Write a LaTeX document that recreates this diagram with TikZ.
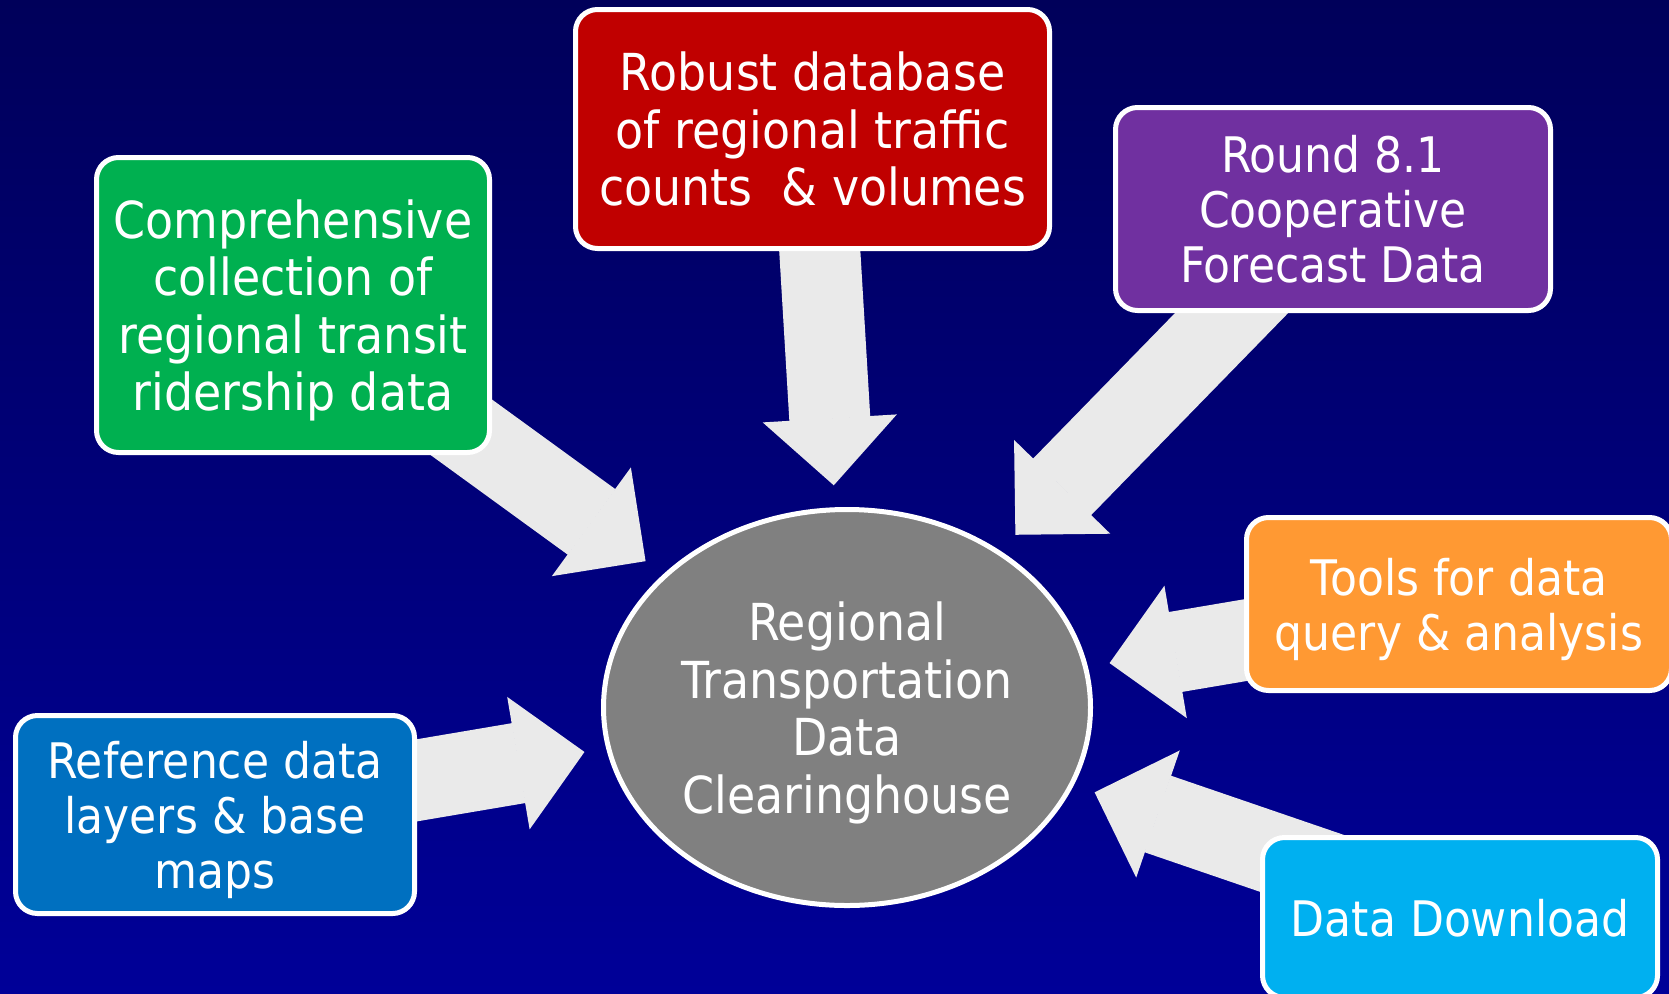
\documentclass[tikz,border=0pt]{standalone}
\usepackage{fontspec}
\setmainfont{DejaVu Sans}[FakeStretch=0.9]
\usetikzlibrary{shapes.geometric,arrows.meta,backgrounds}
\definecolor{skytop}{RGB}{0,0,90}
\definecolor{skybot}{RGB}{0,0,152}
\definecolor{trafred}{RGB}{192,0,0}
\definecolor{transgreen}{RGB}{0,176,80}
\definecolor{fcpurple}{RGB}{112,48,160}
\definecolor{toolorange}{RGB}{255,153,51}
\definecolor{refblue}{RGB}{0,112,192}
\definecolor{dlcyan}{RGB}{0,176,240}
\definecolor{hubgray}{RGB}{128,128,128}
\definecolor{feedgray}{RGB}{234,234,234}
\tikzset{
	card/.style={draw=white, line width=5pt, rounded corners=22pt, inner sep=0pt, text=white, align=center, text depth=0pt},
	bigtxt/.style={font=\fontsize{51}{57.5}\selectfont},
	smalltxt/.style={font=\fontsize{49}{55}\selectfont},
	feed/.style={draw=feedgray, line width=81pt, -{Triangle[length=67pt,width=134pt,line width=2pt]}, shorten >=22pt}
}
\begin{document}
\begin{tikzpicture}[x=1pt, y=-1pt]
	\useasboundingbox (0,0) rectangle (1669,993);
	% centre
	\node[card, bigtxt, ellipse, fill=hubgray, minimum width=487pt, minimum height=396pt] (hub) at (847,707.5) {Regional\\Transportation\\Data\\Clearinghouse};
	% sources round the centre
	\node[card, bigtxt, fill=trafred, minimum width=474pt, minimum height=239pt] (traffic) at (812.5,129) {Robust database\\of regional traffic\\counts\ \ \& volumes};
	\node[card, bigtxt, fill=transgreen, minimum width=393pt, minimum height=295pt] (transit) at (293,305) {Comprehensive\\collection of\\regional transit\\ridership data};
	\node[card, smalltxt, fill=fcpurple, minimum width=435pt, minimum height=203pt] (forecast) at (1333,209) {Round 8.1\\Cooperative\\Forecast Data};
	\node[card, smalltxt, fill=toolorange, minimum width=425pt, minimum height=173pt] (tools) at (1459,604) {Tools for data\\query \& analysis};
	\node[card, smalltxt, fill=refblue, minimum width=399pt, minimum height=198pt] (refdata) at (215,814.5) {Reference data\\layers \& base\\maps};
	\node[card, smalltxt, fill=dlcyan, minimum width=395pt, minimum height=160pt] (download) at (1460,917.5) {Data Download};
	\begin{scope}[on background layer]
		\shade[top color=skytop, bottom color=skybot] (0,0) rectangle (1669,993);
		\foreach \src in {traffic,transit,forecast,tools,refdata,download}
			\draw[feed] (\src.center) -- (hub);
	\end{scope}
\end{tikzpicture}
\end{document}
